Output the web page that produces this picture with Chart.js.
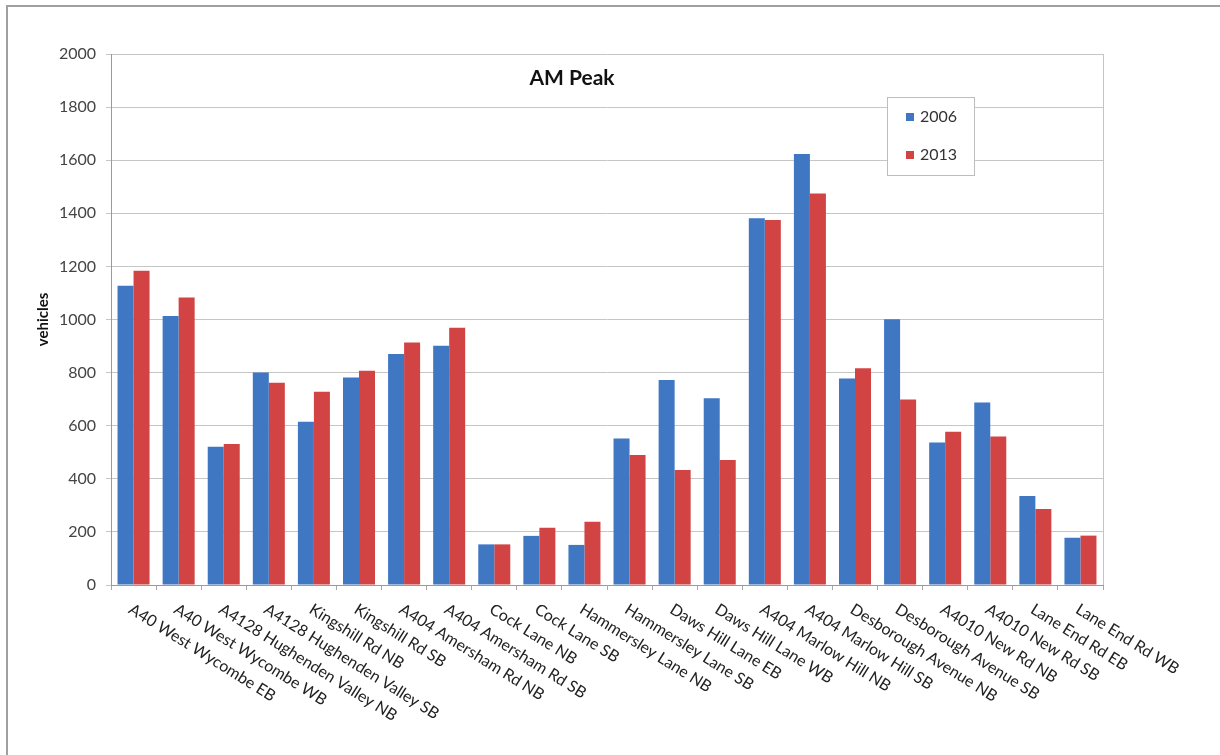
<!DOCTYPE html>
<html>
<head>
<meta charset="utf-8">
<script src="https://cdn.jsdelivr.net/npm/chart.js@4/dist/chart.umd.min.js"></script>
<style>
  html, body { margin: 0; padding: 0; background: #fff; }
  #wrap { position: relative; width: 1220px; height: 755px; }
  #frame { position: absolute; left: 6px; top: 5px; right: 0; bottom: 0;
           border-top: 2px solid #a0a0a0; border-left: 2px solid #a0a0a0; }
  canvas { position: absolute; left: 0; top: 0; }
</style>
</head>
<body>
<div id="wrap">
  <div id="frame"></div>
  <canvas id="chart" width="1220" height="755"></canvas>
</div>
<script>
// Count sites, AM peak hour
const sites = [
  'A40 West Wycombe EB', 'A40 West Wycombe WB',
  'A4128 Hughenden Valley NB', 'A4128 Hughenden Valley SB',
  'Kingshill Rd NB', 'Kingshill Rd SB',
  'A404 Amersham Rd NB', 'A404 Amersham Rd SB',
  'Cock Lane NB', 'Cock Lane SB',
  'Hammersley Lane NB', 'Hammersley Lane SB',
  'Daws Hill Lane EB', 'Daws Hill Lane WB',
  'A404 Marlow Hill NB', 'A404 Marlow Hill SB',
  'Desborough Avenue NB', 'Desborough Avenue SB',
  'A4010 New Rd NB', 'A4010 New Rd SB',
  'Lane End Rd EB', 'Lane End Rd WB'
];

// Vehicle counts per survey year
const counts2006 = [1127, 1013, 521, 800, 615, 782, 870, 901, 153, 185, 151, 552,
                    772, 703, 1381, 1623, 778, 1001, 537, 687, 335, 178];
const counts2013 = [1184, 1083, 531, 762, 728, 807, 913, 969, 153, 216, 238, 490,
                    433, 471, 1375, 1475, 816, 699, 577, 559, 286, 186];

const yTicks = [0, 200, 400, 600, 800, 1000, 1200, 1400, 1600, 1800, 2000];

const FONT = 'Lato, "Liberation Sans", sans-serif';

// Outline of the plot area (right edge) and the in-plot title
const plotDecor = {
  id: 'plotDecor',
  beforeDatasetsDraw(chart) {
    const { ctx, chartArea: a } = chart;
    ctx.save();
    ctx.strokeStyle = '#c4c4c4';
    ctx.lineWidth = 1;
    ctx.beginPath();
    ctx.moveTo(Math.round(a.right) + 0.5, a.top);
    ctx.lineTo(Math.round(a.right) + 0.5, a.bottom);
    ctx.stroke();
    ctx.restore();
  },
  afterDraw(chart) {
    const { ctx, chartArea: a } = chart;
    ctx.save();
    ctx.font = 'bold 21px ' + FONT;
    ctx.fillStyle = '#111';
    ctx.textAlign = 'center';
    ctx.textBaseline = 'middle';
    ctx.fillText('AM Peak', a.left + 461, a.top + 24);
    ctx.restore();
  }
};

// Slanted category labels running down to the right from each category centre
const slantLabels = {
  id: 'slantLabels',
  afterDraw(chart) {
    const { ctx } = chart;
    const x = chart.scales.x;
    const angle = 32 * Math.PI / 180;
    ctx.save();
    ctx.font = '16px ' + FONT;
    ctx.fillStyle = '#222';
    ctx.textAlign = 'left';
    ctx.textBaseline = 'top';
    chart.data.labels.forEach((lab, i) => {
      const px = x.getPixelForTick(i);
      ctx.save();
      ctx.translate(px + 1, x.top + 16);
      ctx.rotate(angle);
      ctx.fillText(lab, 0, 0);
      ctx.restore();
    });
    ctx.restore();
  }
};

// Boxed legend sitting inside the plot area
const boxLegend = {
  id: 'boxLegend',
  afterDraw(chart) {
    const { ctx, chartArea: a } = chart;
    const bx = a.left + 776, by = a.top + 43, bw = 87, bh = 78;
    ctx.save();
    ctx.fillStyle = '#fff';
    ctx.fillRect(bx, by, bw, bh);
    ctx.strokeStyle = '#bdbdbd';
    ctx.lineWidth = 1;
    ctx.strokeRect(bx + 0.5, by + 0.5, bw, bh);
    ctx.font = '16px ' + FONT;
    ctx.textBaseline = 'middle';
    ctx.textAlign = 'left';
    chart.data.datasets.forEach((ds, i) => {
      const cy = by + 20 + i * 38;
      ctx.fillStyle = ds.backgroundColor;
      ctx.fillRect(bx + 19, cy - 4, 8, 8);
      ctx.fillStyle = '#333';
      ctx.fillText(ds.label, bx + 33, cy);
    });
    ctx.restore();
  }
};

new Chart(document.getElementById('chart'), {
  type: 'bar',
  data: {
    labels: sites,
    datasets: [
      { label: '2006', data: counts2006, backgroundColor: '#3f77c3' },
      { label: '2013', data: counts2013, backgroundColor: '#d24444' }
    ]
  },
  options: {
    responsive: false,
    devicePixelRatio: 1,
    animation: false,
    layout: { padding: { left: 30, top: 54, right: 117, bottom: 0 } },
    datasets: { bar: { categoryPercentage: 0.71, barPercentage: 1.0 } },
    plugins: {
      legend: { display: false },
      title: { display: false },
      tooltip: { enabled: false }
    },
    scales: {
      x: {
        ticks: { display: false },
        grid: { drawOnChartArea: false, color: '#a8a8a8', tickLength: 5, offset: true },
        border: { color: '#9a9a9a' },
        afterFit(scale) { scale.height = 170; }
      },
      y: {
        min: 0,
        max: 2000,
        afterBuildTicks(scale) { scale.ticks = yTicks.map(v => ({ value: v })); },
        ticks: {
          font: { family: FONT, size: 16 },
          color: '#444',
          padding: 10,
          callback: v => String(v)
        },
        grid: { color: '#c6c6c6', tickLength: 5 },
        border: { color: '#9a9a9a' },
        title: {
          display: true,
          text: 'vehicles',
          font: { family: FONT, size: 15, weight: 'bold' },
          color: '#111',
          padding: { top: 4, bottom: 0 }
        },
        afterFit(scale) { scale.width = 81; }
      }
    }
  },
  plugins: [plotDecor, slantLabels, boxLegend]
});
</script>
</body>
</html>
